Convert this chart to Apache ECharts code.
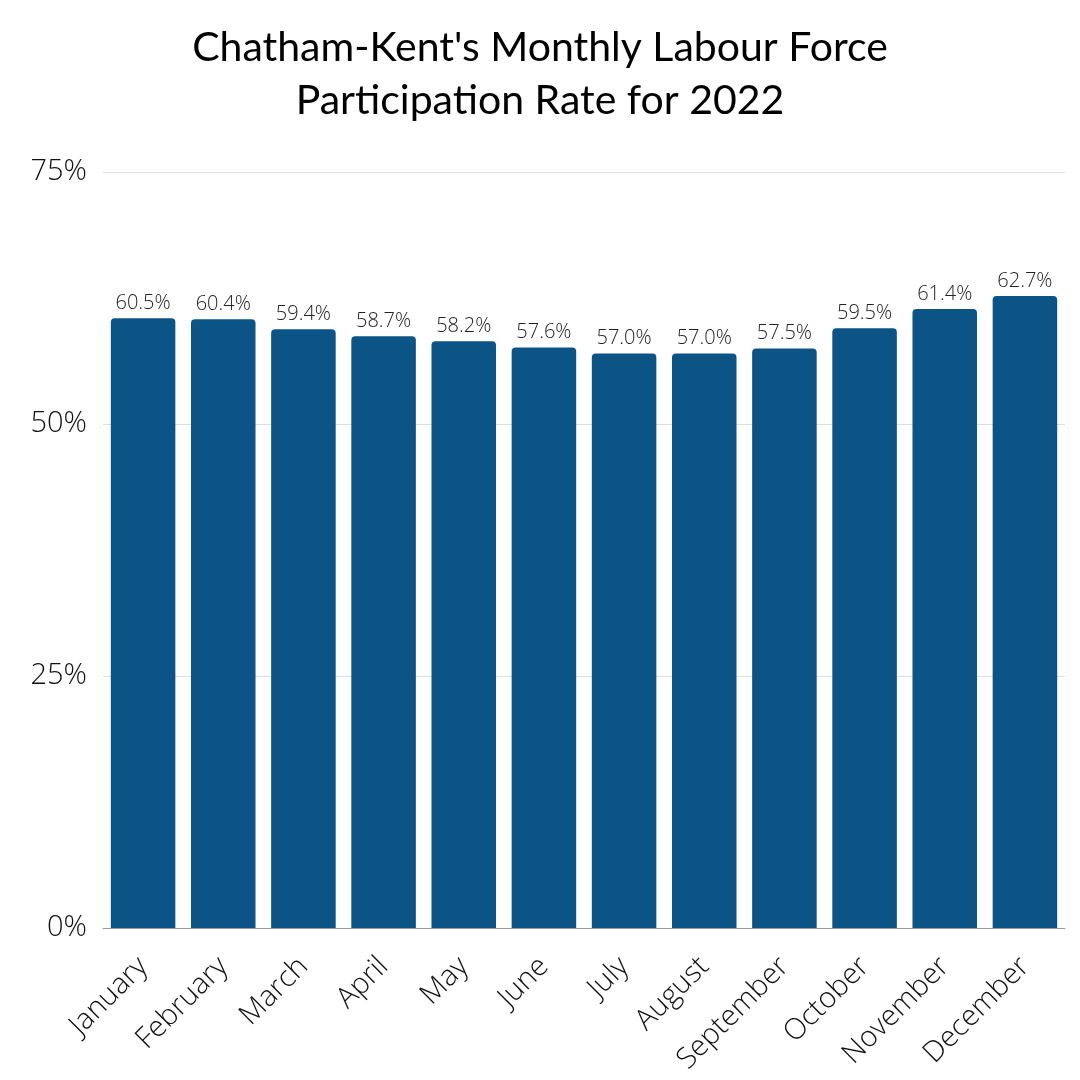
<!DOCTYPE html>
<html>
<head>
<meta charset="utf-8">
<script src="https://cdn.jsdelivr.net/npm/echarts@6/dist/echarts.min.js"></script>
<style>
html,body{margin:0;padding:0;background:#fff;}
#main{width:1080px;height:1080px;}
</style>
</head>
<body>
<div id="main"></div>
<script>
const titleText = "Chatham-Kent's Monthly Labour Force\nParticipation Rate for 2022";
const months = ["January","February","March","April","May","June","July","August","September","October","November","December"];
const rates = [60.5, 60.4, 59.4, 58.7, 58.2, 57.6, 57.0, 57.0, 57.5, 59.5, 61.4, 62.7];
const yTicks = [0, 25, 50, 75];

const chart = echarts.init(document.getElementById('main'), null, {renderer: 'canvas'});
chart.setOption({
  backgroundColor: '#ffffff',
  animation: false,
  title: {
    text: titleText,
    left: 535,
    textAlign: 'center',
    top: 16,
    textStyle: {
      fontFamily: 'Lato',
      fontWeight: 'normal',
      fontSize: 41,
      lineHeight: 53,
      color: '#000000'
    }
  },
  grid: {left: 103, right: 15, top: 172, bottom: 152, containLabel: false},
  xAxis: {
    type: 'category',
    data: months,
    axisLine: {show: true, lineStyle: {color: '#999999', width: 1}},
    axisTick: {show: false},
    axisLabel: {
      rotate: 45,
      interval: 0,
      margin: 34,
      fontFamily: 'Open Sans',
      fontWeight: 300,
      fontSize: 29,
      color: '#111111'
    }
  },
  yAxis: {
    type: 'value',
    min: yTicks[0],
    max: yTicks[yTicks.length - 1],
    interval: 25,
    axisLine: {show: false},
    axisTick: {show: false},
    splitLine: {lineStyle: {color: '#dddddd', width: 1}},
    axisLabel: {
      formatter: v => v + '%',
      margin: 16,
      fontFamily: 'Open Sans',
      fontWeight: 300,
      fontSize: 29,
      color: '#111111'
    }
  },
  series: [{
    type: 'bar',
    data: rates,
    barCategoryGap: '19.5%',
    itemStyle: {color: '#0c5485', borderRadius: [4, 4, 0, 0]},
    label: {
      show: true,
      position: 'top',
      distance: 5,
      formatter: p => p.value.toFixed(1) + '%',
      fontFamily: 'Open Sans',
      fontWeight: 300,
      fontSize: 20,
      color: '#222222'
    }
  }]
});
</script>
</body>
</html>
